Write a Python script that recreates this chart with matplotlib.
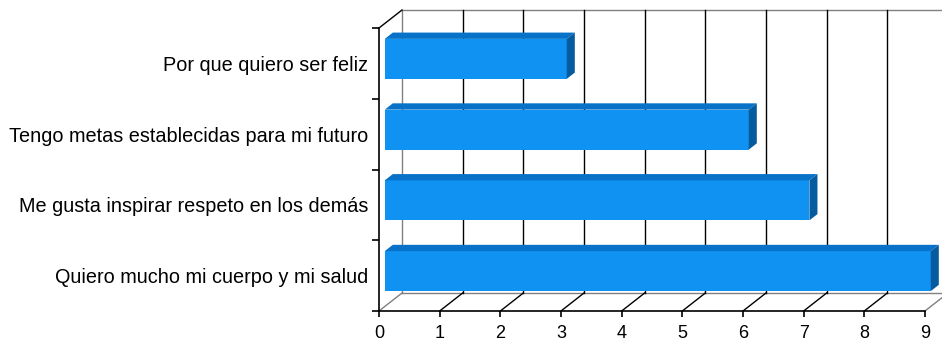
import matplotlib
matplotlib.use("Agg")
import matplotlib.pyplot as plt
from matplotlib.patches import Polygon, Rectangle

plt.rcParams['font.family'] = ['Liberation Sans', 'DejaVu Sans']

categories = [
    "Quiero mucho mi cuerpo y mi salud",
    "Me gusta inspirar respeto en los demás",
    "Tengo metas establecidas para mi futuro",
    "Por que quiero ser feliz",
]
values = [9, 7, 6, 3]
x_ticks = list(range(0, 10))

W, H, DPI = 942, 345, 100
fig = plt.figure(figsize=(W / DPI, H / DPI), dpi=DPI)
fig.patch.set_facecolor("white")

# front plane of the 3-D box
left_px, right_px, top_px, bottom_px = 379, 925, 28, 311
ax = fig.add_axes([left_px / W, (H - bottom_px) / H,
                   (right_px - left_px) / W, (bottom_px - top_px) / H])
xmax = 9
ax.set_xlim(0, xmax)
ax.set_ylim(-0.5, len(categories) - 0.5)
ax.set_facecolor("none")

# depth of the box expressed in data units (pixel depth / pixels per unit)
sx = (right_px - left_px) / xmax
sy = (bottom_px - top_px) / len(categories)
kx = 23 / sx
ky = 18 / sy

y0, y1 = -0.5, len(categories) - 0.5
grey = "#808080"

# back wall
ax.add_patch(Rectangle((kx, y0 + ky), xmax, y1 - y0, facecolor="white",
                       edgecolor="none", zorder=0, clip_on=False))
ax.plot([kx, xmax + kx + 1], [y1 + ky, y1 + ky], color=grey, lw=1, zorder=1, clip_on=False)
ax.plot([kx, xmax + kx + 1], [y0 + ky, y0 + ky], color=grey, lw=1, zorder=1, clip_on=False)
for k in x_ticks:
    col = grey if k in (0, xmax) else "black"
    ax.plot([k + kx, k + kx], [y0 + ky, y1 + ky], color=col, lw=1, zorder=1, clip_on=False)
    ax.plot([k, k + kx], [y0, y0 + ky], color=col, lw=1, zorder=1, clip_on=False)
ax.plot([0, kx], [y1, y1 + ky], color="black", lw=1, zorder=1, clip_on=False)

# 3-D bars
f0, f1 = 0.25, 0.6
h = 20 / sy
c_front, c_top, c_side = "#0f92f2", "#0872c8", "#065a9e"
for i, v in enumerate(values):
    lo, hi = i - h, i + h
    ax.add_patch(Rectangle((f0 * kx, lo + f0 * ky), v, hi - lo, facecolor=c_front,
                           edgecolor="none", zorder=3, clip_on=False))
    ax.add_patch(Polygon([(f0 * kx, hi + f0 * ky), (v + f0 * kx, hi + f0 * ky),
                          (v + f1 * kx, hi + f1 * ky), (f1 * kx, hi + f1 * ky)],
                         closed=True, facecolor=c_top, edgecolor="none", zorder=3, clip_on=False))
    ax.add_patch(Polygon([(v + f0 * kx, lo + f0 * ky), (v + f1 * kx, lo + f1 * ky),
                          (v + f1 * kx, hi + f1 * ky), (v + f0 * kx, hi + f0 * ky)],
                         closed=True, facecolor=c_side, edgecolor="none", zorder=3, clip_on=False))

# axes
for s in ("top", "right"):
    ax.spines[s].set_visible(False)
for s in ("left", "bottom"):
    ax.spines[s].set_color("black")
    ax.spines[s].set_linewidth(1.2)
    ax.spines[s].set_zorder(5)

ax.set_xticks(x_ticks)
ax.set_xticklabels([str(t) for t in x_ticks])
ax.tick_params(axis="x", direction="out", length=4, width=1.2, pad=6, labelsize=13)
ax.set_yticks([k - 0.5 for k in range(len(categories) + 1)])
ax.set_yticklabels([])
ax.tick_params(axis="y", which="major", direction="out", length=5, width=1.2)
ax.set_yticks(range(len(categories)), minor=True)
ax.set_yticklabels(categories, minor=True)
ax.tick_params(axis="y", which="minor", length=0, pad=8, labelsize=14.3)

fig.savefig("out.png", dpi=DPI, facecolor="white")
